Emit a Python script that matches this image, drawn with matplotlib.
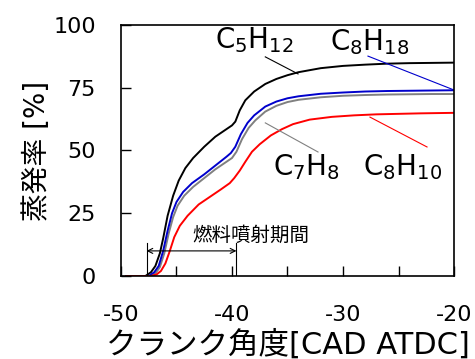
import matplotlib
matplotlib.use("agg")
import matplotlib.pyplot as plt
from matplotlib.ticker import MultipleLocator

plt.rcParams['font.family'] = ['DejaVu Sans', 'Noto Sans CJK JP']
plt.rcParams['mathtext.fontset'] = 'dejavusans'
plt.rcParams['axes.unicode_minus'] = False

# C5H12
x_c5 = [-49.5, -47.8, -47.3, -46.9, -46.5, -46.2, -45.8, -45.3, -44.8, -44.2, -43.5, -42.5,
        -41.5, -40.5, -40.0, -39.7, -39.3, -38.8, -38.0, -37.0, -36.0, -35.0, -34.0, -32.0,
        -30.0, -28.0, -26.0, -24.0, -22.0, -20.0]
y_c5 = [0, 0, 1.5, 4, 9, 15, 24, 32, 38, 43, 47, 51.5,
        55.5, 58.5, 60, 61.5, 66, 70, 73.5, 76.5, 78.5, 80, 81.2, 82.8,
        83.7, 84.2, 84.6, 84.8, 84.9, 85]

# C8H18
x_c8h18 = [-49.5, -47.5, -47.0, -46.6, -46.2, -45.8, -45.4, -45.0, -44.4, -43.6, -42.5, -41.5,
           -40.5, -40.1, -39.7, -39.2, -38.6, -38.0, -37.0, -36.0, -35.0, -34.0, -32.0, -30.0,
           -28.0, -26.0, -24.0, -22.0, -20.0]
y_c8h18 = [0, 0, 1.5, 4, 10, 18, 25, 29.5, 33.5, 37, 40.5, 44,
           47.5, 49, 51.5, 56.5, 61, 64, 67.5, 69.5, 70.8, 71.6, 72.6, 73.1,
           73.5, 73.7, 73.8, 73.9, 74]

# C7H8
x_c7 = [-49.5, -47.4, -46.9, -46.5, -46.1, -45.7, -45.3, -44.9, -44.3, -43.5, -42.5, -41.5,
        -40.5, -40.0, -39.6, -39.1, -38.5, -37.9, -37.0, -36.0, -35.0, -34.0, -32.0, -30.0,
        -28.0, -26.0, -24.0, -22.0, -20.0]
y_c7 = [0, 0, 1, 3.5, 9, 17, 23.5, 28, 32, 35.5, 39, 42.5,
        45.5, 47, 49.5, 54.5, 59, 62, 65.5, 67.8, 69.3, 70.2, 71.2, 71.8,
        72.1, 72.3, 72.4, 72.5, 72.5]

# C8H10
x_c8h10 = [-49.5, -47.3, -46.8, -46.4, -46.0, -45.6, -45.2, -44.7, -44.0, -43.0, -42.0, -41.0,
           -40.2, -39.8, -39.3, -38.8, -38.2, -37.5, -36.5, -35.5, -34.5, -33.0, -31.0, -29.0,
           -27.0, -25.0, -23.0, -20.0]
y_c8h10 = [0, 0, 0.6, 2, 5, 10, 15.5, 20, 24, 28.5, 31.5, 34.5,
           37, 39, 42, 45.5, 49.5, 52.5, 56, 58.5, 60.5, 62.3, 63.4, 64,
           64.4, 64.6, 64.8, 65]

inj_start, inj_end = -47.7, -39.6

fig = plt.figure(figsize=(4.75, 3.59), dpi=100)
ax = fig.add_axes([0.2547, 0.2312, 0.7011, 0.6992])

ax.plot(x_c5, y_c5, color='black', lw=1.4)
ax.plot(x_c7, y_c7, color='#808080', lw=1.4)
ax.plot(x_c8h18, y_c8h18, color='#0000CC', lw=1.4)
ax.plot(x_c8h10, y_c8h10, color='#FF0000', lw=1.4)

# injection period
ax.plot([inj_start, inj_start], [0, 13], color='black', lw=0.8)
ax.plot([inj_end, inj_end], [0, 13], color='black', lw=0.8)
ax.annotate('', xy=(inj_start, 10), xytext=(inj_end, 10),
            arrowprops=dict(arrowstyle='<->', lw=0.8, color='black',
                            shrinkA=0, shrinkB=0, mutation_scale=9))
ax.text(-38.3, 16.3, '燃料噴射期間', ha='center', va='center', fontsize=14)

# curve labels with leader lines
ax.text(-41.5, 90.8, 'C$_5$H$_{12}$', fontsize=20, ha='left', va='baseline')
ax.plot([-37.0, -34.05], [87.3, 80.5], color='black', lw=0.8)
ax.text(-31.2, 90.0, 'C$_8$H$_{18}$', fontsize=20, ha='left', va='baseline')
ax.plot([-27.75, -20.0], [87.6, 74.1], color='#0000CC', lw=0.8)
ax.text(-36.3, 40.2, 'C$_7$H$_8$', fontsize=20, ha='left', va='baseline')
ax.plot([-37.0, -32.25], [61.0, 49.4], color='#808080', lw=0.8)
ax.text(-28.2, 40.2, 'C$_8$H$_{10}$', fontsize=20, ha='left', va='baseline')
ax.plot([-27.57, -22.43], [63.3, 51.4], color='#FF0000', lw=0.8)

ax.set_xlim(-50, -20)
ax.set_ylim(0, 100)
ax.xaxis.set_major_locator(MultipleLocator(10))
ax.xaxis.set_minor_locator(MultipleLocator(5))
ax.yaxis.set_major_locator(MultipleLocator(25))
ax.tick_params(which='both', direction='in', length=7, width=1.0,
               labelsize=16, pad=18, top=False, right=False)
ax.tick_params(axis='x', which='both', pad=21)
for s in ax.spines.values():
    s.set_linewidth(1.2)

ax.set_xlabel('クランク角度[CAD ATDC]', fontsize=22, labelpad=3)
ax.set_ylabel('蒸発率 [%]', fontsize=20, labelpad=2)

fig.savefig('out.png', dpi=100)
